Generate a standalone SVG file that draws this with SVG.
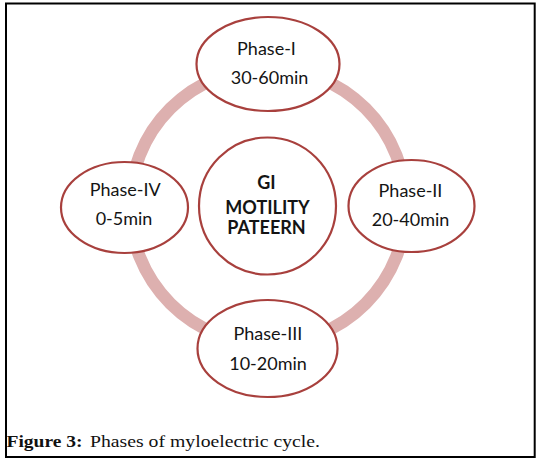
<svg xmlns="http://www.w3.org/2000/svg" width="546" height="465" viewBox="0 0 546 465">
  <style>
    .node { fill: #ffffff; stroke: #a8403d; stroke-width: 2.2; }
    .lbl { font-family: Lato, "Open Sans", "Liberation Sans", sans-serif; font-size: 18px; fill: #141414; text-anchor: middle; }
    .bold { font-family: Lato, "Open Sans", "Liberation Sans", sans-serif; font-size: 18px; font-weight: bold; fill: #141414; text-anchor: middle; }
    .cap { font-family: "Liberation Serif", "DejaVu Serif", serif; font-size: 17.5px; fill: #111; }
  </style>
  <rect x="0" y="0" width="546" height="465" fill="#ffffff"/>
  <rect x="6" y="3.5" width="528.7" height="453.5" fill="none" stroke="#000" stroke-width="2"/>
  <g id="connectors">
    <circle cx="268" cy="206" r="138" fill="none" stroke="#ddb0af" stroke-width="12.5"/>
  </g>
  <g id="center">
    <circle class="node" cx="267.5" cy="206" r="68.5"/>
    <text class="bold" x="266.5" y="188.5">GI</text>
    <text class="bold" x="267.5" y="213.5">MOTILITY</text>
    <text class="bold" x="266.5" y="233.5">PATEERN</text>
  </g>
  <g id="phase1">
    <ellipse class="node" cx="268" cy="64" rx="71.5" ry="47"/>
    <text class="lbl" x="266.5" y="54.5">Phase-I</text>
    <text class="lbl" x="269.5" y="83.5">30-60min</text>
  </g>
  <g id="phase2">
    <ellipse class="node" cx="411.5" cy="206" rx="63" ry="46"/>
    <text class="lbl" x="410.5" y="196.5">Phase-II</text>
    <text class="lbl" x="410.5" y="226">20-40min</text>
  </g>
  <g id="phase3">
    <ellipse class="node" cx="267.5" cy="348.5" rx="70" ry="48.5"/>
    <text class="lbl" x="268" y="340">Phase-III</text>
    <text class="lbl" x="268" y="369.5">10-20min</text>
  </g>
  <g id="phase4">
    <ellipse class="node" cx="124.5" cy="207.5" rx="63.5" ry="45.5"/>
    <text class="lbl" x="125.3" y="196">Phase-IV</text>
    <text class="lbl" x="124" y="225">0-5min</text>
  </g>
  <text class="cap" x="6.5" y="447" font-weight="bold" textLength="76" lengthAdjust="spacingAndGlyphs">Figure 3:</text>
  <text class="cap" x="90" y="447" textLength="230" lengthAdjust="spacingAndGlyphs">Phases of myloelectric cycle.</text>
</svg>
